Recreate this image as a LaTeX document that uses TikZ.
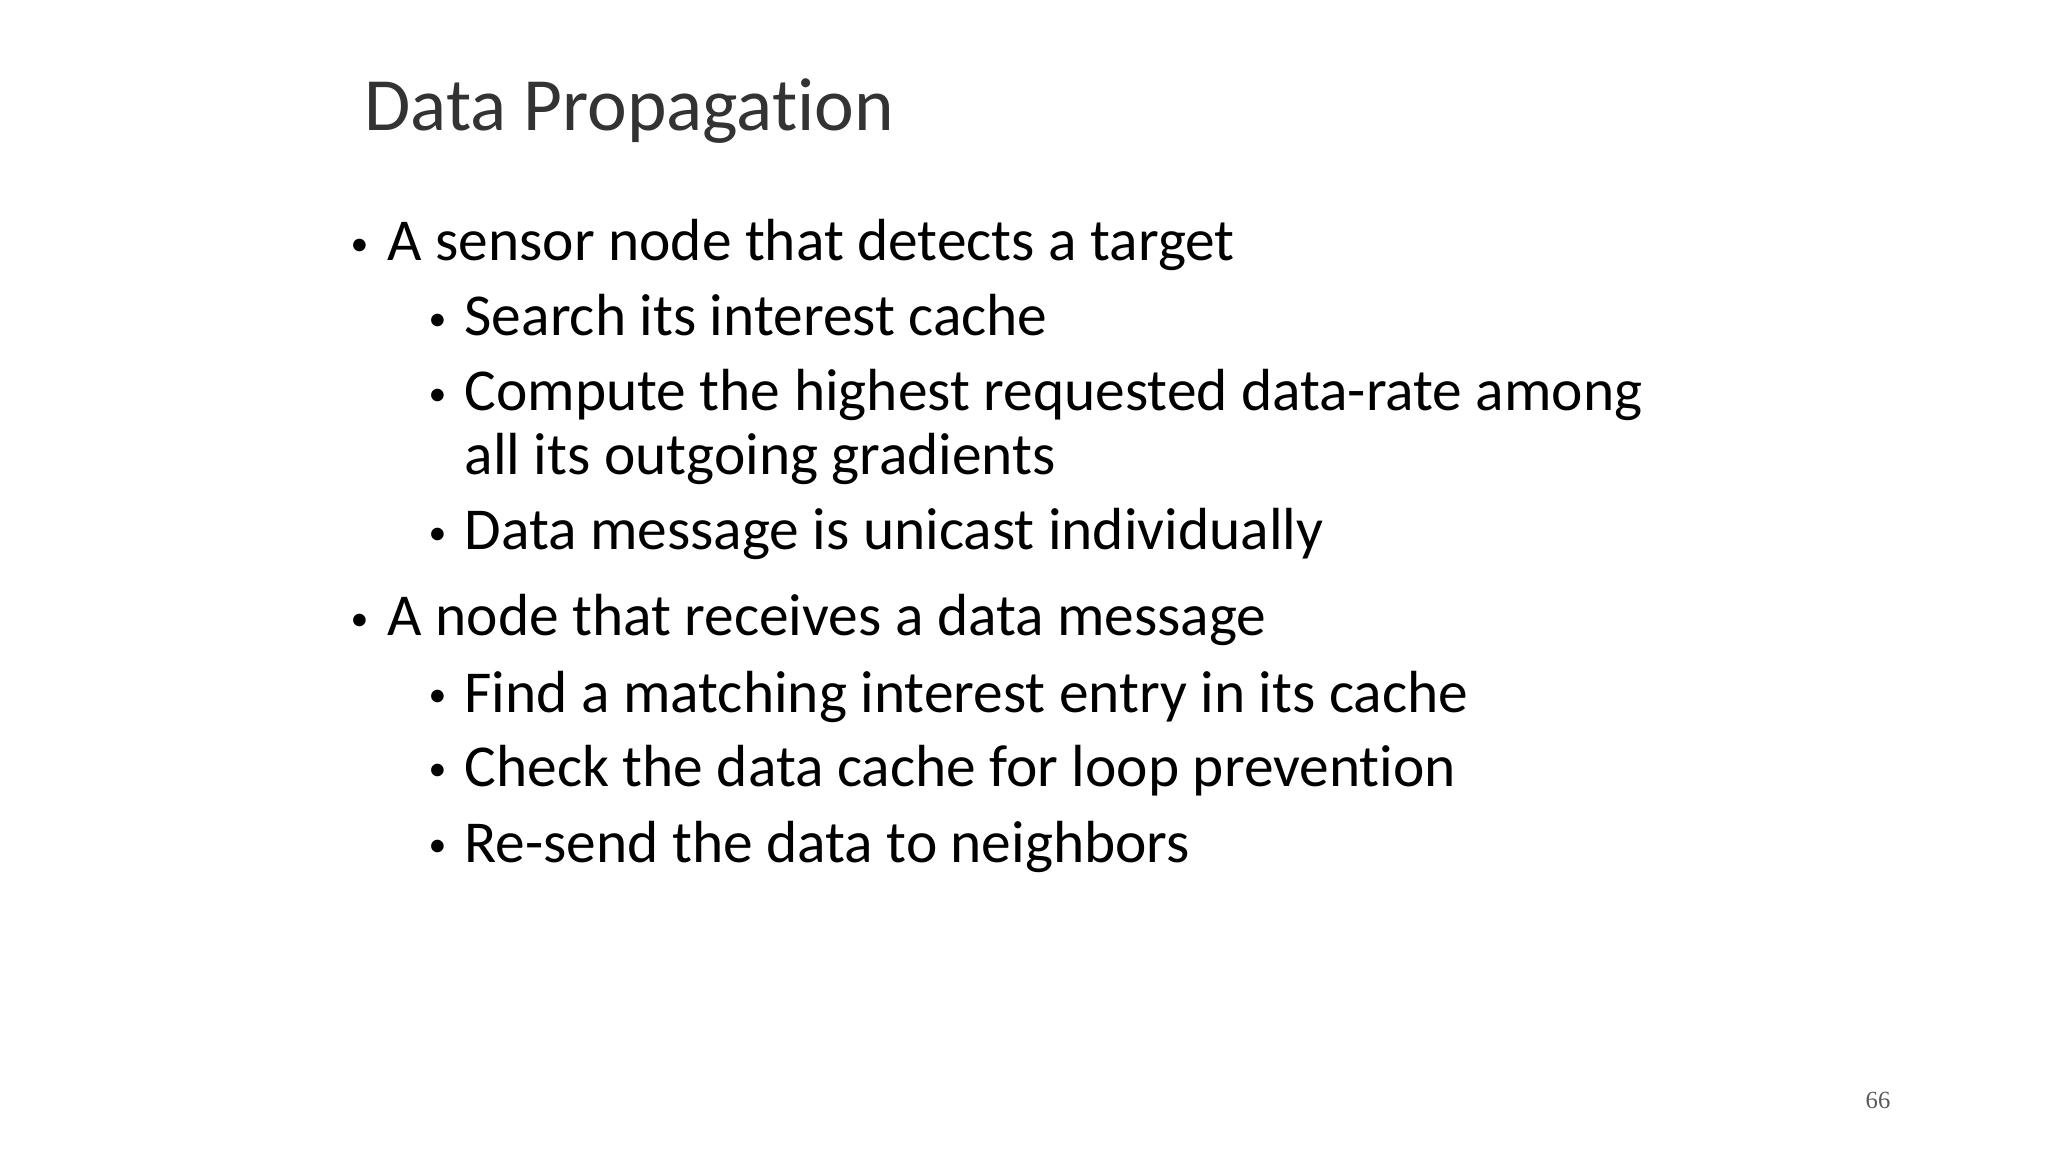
\documentclass[tikz,border=0pt]{standalone}
\usepackage{fontspec}
\setmainfont[Ligatures=NoCommon]{Carlito}
\newfontfamily\numfont{Liberation Serif}
\newcommand{\bul}{\raisebox{0.1em}{\scalebox{0.6}{•}}}
\begin{document}
\begin{tikzpicture}[x=0.01cm,y=-0.01cm,
  lvone/.style={anchor=base west,inner sep=0,font=\fontsize{16.9}{20}\selectfont},
  lvtwo/.style={anchor=base west,inner sep=0,font=\fontsize{16.9}{20}\selectfont},
  ttl/.style={anchor=base west,inner sep=0,text=black!80,font=\fontsize{21.4}{26}\selectfont}]
\useasboundingbox (0,0) rectangle (2048,1152);
\node[ttl] (title) at (364,131) {Data Propagation};
\node[lvone] (b1d) at (350,261) {\bul};
\node[lvone] (b1) at (387,261) {A sensor node that detects a target};
\node[lvtwo] (s1d) at (428,336) {\bul};
\node[lvtwo] (s1) at (464,336) {Search its interest cache};
\node[lvtwo] (s2d) at (428,411) {\bul};
\node[lvtwo] (s2) at (464,411) {Compute the highest requested data-rate among};
\node[lvtwo] (s2b) at (464,475) {all its outgoing gradients};
\node[lvtwo] (s3d) at (428,550) {\bul};
\node[lvtwo] (s3) at (464,550) {Data message is unicast individually};
\node[lvone] (b2d) at (350,636) {\bul};
\node[lvone] (b2) at (387,636) {A node that receives a data message};
\node[lvtwo] (s4d) at (428,712) {\bul};
\node[lvtwo] (s4) at (464,712) {Find a matching interest entry in its cache};
\node[lvtwo] (s5d) at (428,786) {\bul};
\node[lvtwo] (s5) at (464,786) {Check the data cache for loop prevention};
\node[lvtwo] (s6d) at (428,862) {\bul};
\node[lvtwo] (s6) at (464,862) {Re-send the data to neighbors};
\node[anchor=base,inner sep=0,font=\numfont\fontsize{7}{8}\selectfont,text=black!65] (pg) at (1878,1108) {66};
\end{tikzpicture}
\end{document}
